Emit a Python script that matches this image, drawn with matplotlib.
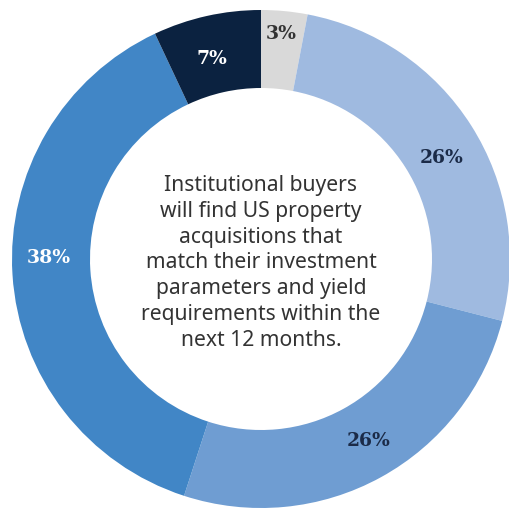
import matplotlib
matplotlib.use("Agg")
import matplotlib.pyplot as plt
import numpy as np

categories = ["Strongly disagree", "Agree", "Neutral", "Strongly agree", "Disagree"]
values = [3, 26, 26, 38, 7]
labels = ["3%", "26%", "26%", "38%", "7%"]
colors = ["#d9d9d9", "#9fbae0", "#6f9dd2", "#4186c6", "#0b2240"]
label_colors = ["#333333", "#1b2b48", "#1b2b48", "#ffffff", "#ffffff"]
# small label nudges in pixels (dx right, dy up)
label_nudges = [(0, 17), (3, -11), (6, 3), (-3, 15), (-3, -4)]
center_text = ("Institutional buyers\nwill find US property\nacquisitions that\n"
               "match their investment\nparameters and yield\n"
               "requirements within the\nnext 12 months.")

W, H = 509, 510
cx, cy = 261, 260
R_out, R_in = 249, 171

fig = plt.figure(figsize=(W / 100, H / 100), dpi=100)
ax = fig.add_axes([0, 0, 1, 1])

wedges, _ = ax.pie(values, colors=colors, startangle=90, counterclock=False,
                   radius=R_out, wedgeprops=dict(width=R_out - R_in, linewidth=0))

ax.set_xlim(-cx, W - cx)
ax.set_ylim(-(H - cy), cy)
ax.set_aspect("equal")
ax.axis("off")

r_lab = (R_out + R_in) / 2
for w, lab, lc, (dx, dy) in zip(wedges, labels, label_colors, label_nudges):
    ang = np.deg2rad((w.theta1 + w.theta2) / 2)
    ax.annotate(lab, (r_lab * np.cos(ang), r_lab * np.sin(ang)),
                xytext=(dx * 0.72, dy * 0.72), textcoords="offset points",
                ha="center", va="center",
                fontsize=13.5, fontweight="bold", family="DejaVu Serif", color=lc)

ax.text(0, -3, center_text, ha="center", va="center", fontsize=15.2,
        family="Noto Sans", color="#333333", linespacing=1.31)

fig.savefig("out.png", dpi=100)
